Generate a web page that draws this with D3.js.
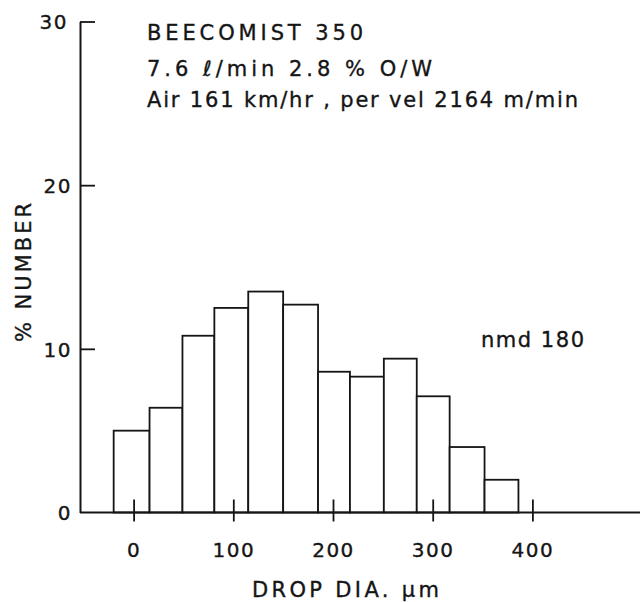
<!DOCTYPE html>
<html>
<head>
<meta charset="utf-8">
<script src="https://cdn.jsdelivr.net/npm/d3@7"></script>
<style>
  html, body { margin: 0; padding: 0; background: #ffffff; }
  svg { display: block; }
  text { font-family: "DejaVu Sans", sans-serif; fill: #151515; stroke: #151515; stroke-width: 0.35px; }
</style>
</head>
<body>
<svg id="chart" width="640" height="602"></svg>
<script>
// ---- data ----
const binEdges = [-20, 16, 49, 81, 115, 150, 185, 217, 251, 284, 317, 352, 386]; // drop diameter bin edges (µm)
const percentNumber = [5.0, 6.4, 10.8, 12.5, 13.5, 12.7, 8.6, 8.3, 9.4, 7.1, 4.0, 2.0]; // % number per bin
const xTickValues = [0, 100, 200, 300, 400];
const yTickValues = [0, 10, 20, 30];
const annotationLines = [
  "BEECOMIST 350",
  "7.6 \u2113/min 2.8 % O/W",
  "Air 161 km/hr , per vel 2164 m/min"
];
const nmdLabel = "nmd 180";
const xTitle = "DROP DIA. \u00b5m";
const yTitle = "% NUMBER";

// ---- layout ----
const W = 640, H = 602;
const axisX = 80;
const ink = "#151515";

const svg = d3.select("#chart");

const x = d3.scaleLinear().domain([0, 400]).range([133.6, 532.4]);
const y = d3.scaleLinear().domain([0, 30]).range([512.5, 21.5]);

const bins = percentNumber.map((v, i) => ({ x0: binEdges[i], x1: binEdges[i + 1], v }));

// bars
svg.append("g").selectAll("rect").data(bins).join("rect")
  .attr("x", d => x(d.x0))
  .attr("y", d => y(d.v))
  .attr("width", d => x(d.x1) - x(d.x0))
  .attr("height", d => y(0) - y(d.v))
  .attr("fill", "#ffffff")
  .attr("stroke", ink)
  .attr("stroke-width", 1.8);

// baseline (x axis line) extends to the right edge
svg.append("line")
  .attr("x1", axisX).attr("x2", W)
  .attr("y1", y(0)).attr("y2", y(0))
  .attr("stroke", ink).attr("stroke-width", 2);

// x axis ticks & labels
const xAxis = svg.append("g")
  .attr("transform", `translate(0,${y(0)})`)
  .call(d3.axisBottom(x).tickValues(xTickValues).tickSize(9).tickPadding(0).tickFormat(d3.format("d")));
xAxis.select(".domain").remove();
xAxis.selectAll(".tick line").attr("y1", -13).attr("y2", 9).attr("stroke", ink).attr("stroke-width", 1.8);
xAxis.selectAll(".tick text")
  .attr("y", 44).attr("dy", 0)
  .style("font-family", "DejaVu Sans, sans-serif")
  .style("font-size", "20px")
  .style("letter-spacing", "1.5px")
  .attr("fill", ink);

// y axis
const yAxis = svg.append("g")
  .attr("transform", `translate(${axisX},0)`)
  .call(d3.axisLeft(y).tickValues(yTickValues).tickSize(-15).tickSizeOuter(0).tickPadding(8).tickFormat(d3.format("d")));
yAxis.select(".domain").attr("stroke", ink).attr("stroke-width", 2);
yAxis.selectAll(".tick line").attr("stroke", ink).attr("stroke-width", 1.8);
yAxis.selectAll(".tick line").filter(d => d === 0).remove();
yAxis.selectAll(".tick text")
  .attr("dy", "0.36em")
  .style("font-family", "DejaVu Sans, sans-serif")
  .style("font-size", "20px")
  .style("letter-spacing", "1.5px")
  .attr("fill", ink);
yAxis.selectAll(".tick text").filter(d => d === 30).attr("x", -12);

// annotations
const annBaselines = [40, 76, 107];
const annLengths = [216, 285, 431];
svg.append("g").selectAll("text").data(annotationLines).join("text")
  .attr("x", 147)
  .attr("y", (d, i) => annBaselines[i])
  .attr("textLength", (d, i) => annLengths[i])
  .attr("lengthAdjust", "spacing")
  .style("font-size", "21px")
  .text(d => d);

svg.append("text")
  .attr("x", 481).attr("y", 347)
  .attr("textLength", 103).attr("lengthAdjust", "spacing")
  .style("font-size", "21px")
  .text(nmdLabel);

// axis titles
svg.append("text")
  .attr("x", 252).attr("y", 597)
  .attr("textLength", 187).attr("lengthAdjust", "spacing")
  .style("font-size", "21px")
  .text(xTitle);

svg.append("text")
  .attr("transform", "translate(31,342) rotate(-90)")
  .attr("x", 0).attr("y", 0)
  .attr("textLength", 139).attr("lengthAdjust", "spacing")
  .style("font-size", "21px")
  .text(yTitle);
</script>
</body>
</html>
